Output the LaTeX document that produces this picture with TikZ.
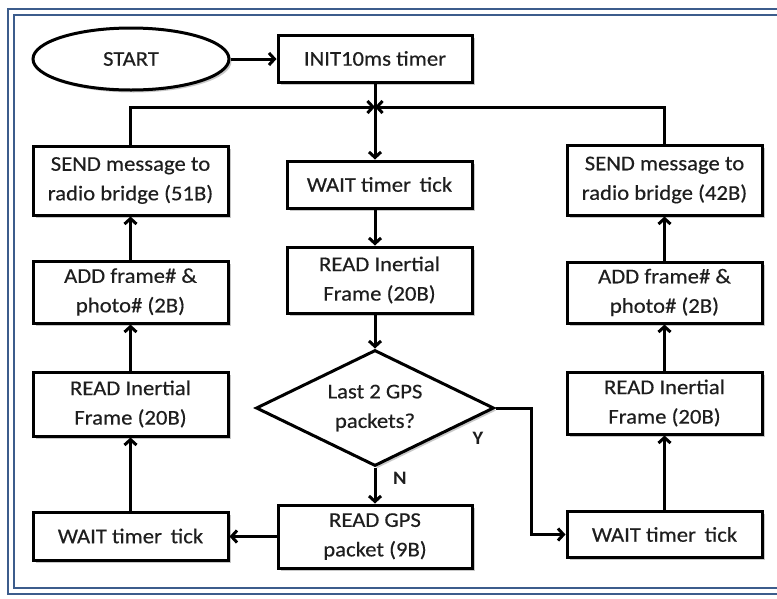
\documentclass[tikz,border=0pt]{standalone}
\usepackage{fontspec}
\setmainfont{Carlito}[FakeStretch=1.08]
\newfontfamily\boxfont{Carlito}[FakeStretch=1.08,FakeBold=0.35]
\usetikzlibrary{shapes.geometric,arrows.meta,shadows}
\definecolor{framecol}{RGB}{60,92,140}
\definecolor{inkcol}{RGB}{30,30,30}

\begin{document}
\begin{tikzpicture}[x=1pt,y=-1pt,
  soft/.style={drop shadow={shadow xshift=2.5pt,shadow yshift=-2.5pt,opacity=0.3,fill=black!70}},
  boxtext/.style={font=\boxfont\fontsize{21}{29.5}\selectfont,text=inkcol},
  stepbox/.style={rectangle,draw=black,line width=3pt,fill=white,inner sep=0pt,
    align=center,boxtext,soft},
  startshape/.style={ellipse,draw=black,line width=3pt,fill=white,inner sep=0pt,
    minimum width=196pt,minimum height=62pt,boxtext,soft},
  decide/.style={diamond,draw=black,line width=3pt,fill=white,inner sep=0pt,aspect=2,
    minimum width=238pt,minimum height=116pt,align=center,boxtext,soft},
  wide/.style={minimum width=195pt},
  link/.style={draw=black,line width=3pt},
  arr/.style={link,-{Straight Barb[length=5.5pt,width=12pt]}},
  branch/.style={font=\fontsize{19}{22}\selectfont\bfseries,text=inkcol}
]
% page area and frame
\path[use as bounding box,fill=white] (0,0) rectangle (777,598);
\begin{scope}
  \clip (0,0) rectangle (777,598);
  \draw[framecol,line width=2.2pt] (8,9) rectangle (800,594);
  \draw[framecol,line width=2.2pt] (14,15) rectangle (800,588);
\end{scope}

% centre column
\node[startshape] (start) at (131,59) {START};
\node[stepbox,minimum width=194pt,minimum height=47pt] (init) at (375,58.5) {INIT10ms timer};
\coordinate (merge) at (375,107);
\node[stepbox,minimum width=185pt,minimum height=47pt] (wait1) at (379.5,184.5) {WAIT timer\, tick};
\node[stepbox,minimum width=185pt,minimum height=66pt] (read1) at (379.5,280) {READ Inertial\\Frame (20B)};
\node[decide] (dec) at (375,408) {Last 2 GPS\\packets?};
\node[stepbox,minimum width=194pt,minimum height=63pt] (gps) at (375,536.5) {READ GPS\\packet (9B)};

% left column
\node[stepbox,wide,minimum height=69pt] (lsend) at (130.5,180.5) {SEND message to\\radio bridge (51B)};
\node[stepbox,wide,minimum height=62pt] (ladd) at (130.5,292) {ADD frame\# \&\\photo\# (2B)};
\node[stepbox,wide,minimum height=64pt] (lread) at (130.5,404) {READ Inertial\\Frame (20B)};
\node[stepbox,wide,minimum height=48pt] (lwait) at (130.5,536) {WAIT timer\, tick};

% right column
\node[stepbox,wide,minimum height=70pt] (rsend) at (664.5,180) {SEND message to\\radio bridge (42B)};
\node[stepbox,wide,minimum height=61pt] (radd) at (664.5,292.5) {ADD frame\# \&\\photo\# (2B)};
\node[stepbox,wide,minimum height=62pt] (rread) at (664.5,403) {READ Inertial\\Frame (20B)};
\node[stepbox,wide,minimum height=46pt] (rwait) at (664.5,534.5) {WAIT timer\, tick};

\coordinate (turn) at (531,408);

% connectors
\draw[arr] (start.east) -- (start.east -| init.west);
\draw[link] (init.south) -- (merge);
\draw[arr] (merge) -- (merge |- wait1.north);
\draw[arr] (lsend.north) |- (merge);
\draw[arr] (rsend.north) |- (merge);
\draw[arr] (wait1.south -| merge) -- (read1.north -| merge);
\draw[arr] (read1.south -| merge) -- (dec.north);
\draw[arr] (dec.south) -- (gps.north);
\draw[arr] (gps.west) -- (gps.west -| lwait.east);
\draw[arr] (lwait.north) -- (lread.south);
\draw[arr] (lread.north) -- (ladd.south);
\draw[arr] (ladd.north) -- (lsend.south);
\draw[arr] (dec.east) -- (turn) |- (rwait.west);
\draw[arr] (rwait.north) -- (rread.south);
\draw[arr] (rread.north) -- (radd.south);
\draw[arr] (radd.north) -- (rsend.south);

% branch labels
\node[branch] (nolabel) at (400,478) {N};
\node[branch] (yeslabel) at (478,438) {Y};
\end{tikzpicture}
\end{document}
